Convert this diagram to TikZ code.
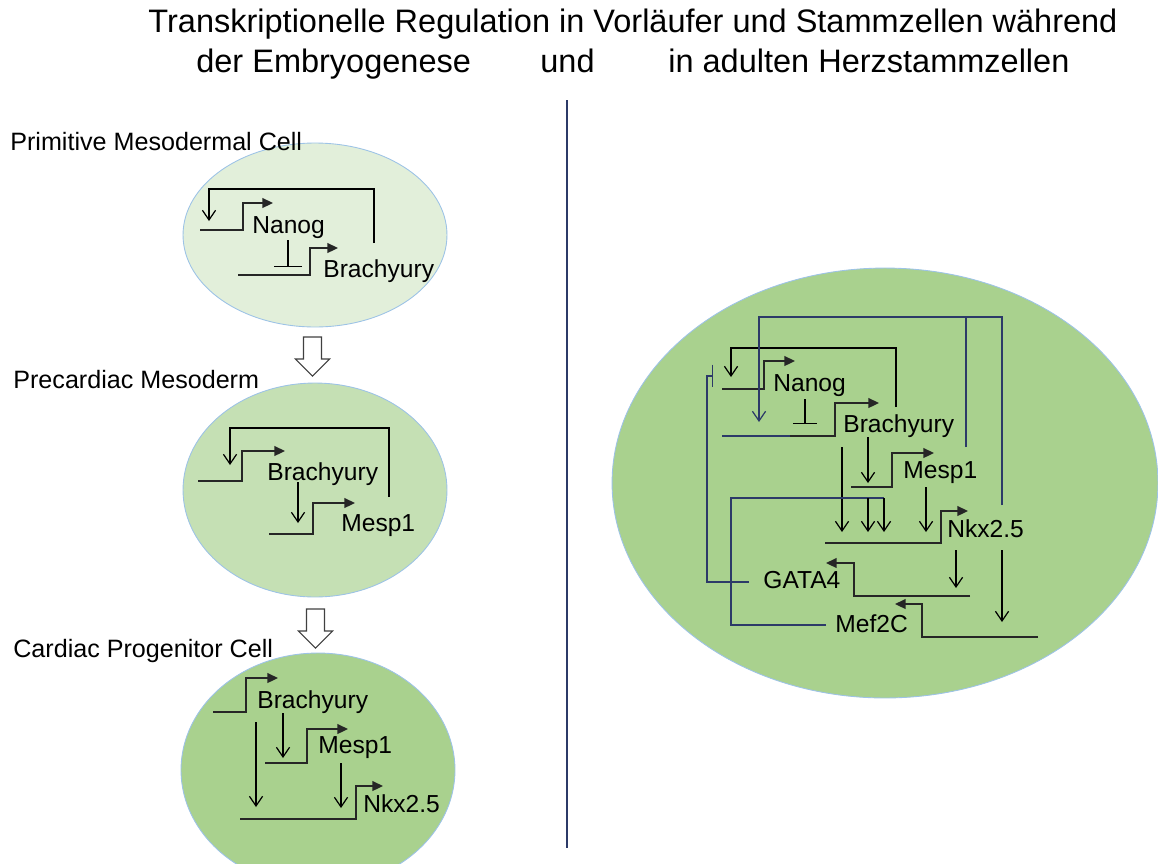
\documentclass[tikz,border=0pt]{standalone}
\usepackage{fontspec}
\setmainfont{Liberation Sans}
\usetikzlibrary{arrows.meta,shapes.geometric}

\definecolor{paleGreen}{RGB}{226,239,218}
\definecolor{midGreen}{RGB}{197,224,180}
\definecolor{deepGreen}{RGB}{169,209,142}
\definecolor{rimBlue}{RGB}{157,195,230}
\definecolor{navyLine}{RGB}{44,58,104}

\tikzset{
  cell/.style={ellipse, draw=rimBlue, line width=0.5pt, inner sep=0pt},
  title/.style={inner sep=0pt, font=\fontsize{18.5}{22}\selectfont},
  stage/.style={anchor=base west, inner sep=0pt, font=\fontsize{14.3}{17}\selectfont},
  gene/.style={anchor=base west, inner sep=0pt, font=\fontsize{14}{16}\selectfont},
  prom/.style={line width=1pt, black!85, -{Triangle[length=6pt,width=5.5pt]}},
  act/.style={line width=0.7pt, -{Straight Barb[length=5.5pt,width=7.5pt]}},
  inh/.style={line width=0.7pt, -{Bar[width=14pt]}},
  link/.style={line width=0.7pt, draw=navyLine},
  hollow/.style={draw=black!75, line width=0.6pt, fill=white, line join=miter}
}

\begin{document}
\begin{tikzpicture}[x=0.02cm, y=-0.02cm]
\useasboundingbox (0,0) rectangle (1158,863);

% headline
\node[title, anchor=base] (title1) at (633,32) {Transkriptionelle Regulation in Vorläufer und Stammzellen während};
\node[title, anchor=base west] (title2) at (196,72) {der Embryogenese};
\node[title, anchor=base west] (title3) at (540,72) {und};
\node[title, anchor=base west] (title4) at (668,72) {in adulten Herzstammzellen};

\draw[link] (567,100) -- (567,848);

% cells
\node[cell, fill=paleGreen, minimum width=5.28cm, minimum height=3.68cm] (early) at (315,235) {};
\node[cell, fill=midGreen, minimum width=5.28cm, minimum height=4.28cm] (precardiac) at (315,490) {};
\node[cell, fill=deepGreen, minimum width=5.48cm, minimum height=4.68cm] (progenitor) at (318,770) {};
\node[cell, fill=deepGreen, minimum width=10.92cm, minimum height=8.6cm] (adult) at (885,483) {};

\node[stage] (stage1) at (10,150) {Primitive Mesodermal Cell};
\node[stage] (stage2) at (13,388) {Precardiac Mesoderm};
\node[stage] (stage3) at (13,657) {Cardiac Progenitor Cell};

\coordinate (step1) at (312.5,337);
\coordinate (step2) at (315.5,609);
\draw[hollow] (step1) -- ++(9,0) -- ++(0,22) -- ++(8,0) -- ++(-17,17) -- ++(-17,-17) -- ++(8,0) -- ++(0,-22) -- cycle;
\draw[hollow] (step2) -- ++(9,0) -- ++(0,22) -- ++(8,0) -- ++(-17,17) -- ++(-17,-17) -- ++(8,0) -- ++(0,-22) -- cycle;

% primitive mesodermal cell
\node[gene] (nanog1) at (252,233) {Nanog};
\node[gene] (brachy1) at (323,277) {Brachyury};
\coordinate (nanog1p) at (200,230);
\coordinate (nanog1t) at (273,203);
\coordinate (brachy1p) at (238,275);
\coordinate (brachy1t) at (338,248);
\coordinate (loop1s) at (374,243);
\coordinate (loop1e) at (209,221);
\coordinate (stop1s) at (288,240);
\coordinate (stop1e) at (288,267);
\draw[prom] (nanog1p) -| (243,203) -- (nanog1t);
\draw[prom] (brachy1p) -| (310,248) -- (brachy1t);
\draw[act] (loop1s) -- (374,189) -- (209,189) -- (loop1e);
\draw[inh, -{Bar[width=16pt]}] (stop1s) -- (stop1e);

% precardiac mesoderm
\node[gene] (brachy2) at (267,480) {Brachyury};
\node[gene] (mesp2) at (341,531) {Mesp1};
\coordinate (brachy2p) at (198,481);
\coordinate (brachy2t) at (285,451);
\coordinate (mesp2p) at (269,534);
\coordinate (mesp2t) at (355,503);
\coordinate (loop2s) at (389,497);
\coordinate (loop2e) at (230,465);
\coordinate (go2s) at (298,482);
\coordinate (go2e) at (298,523);
\draw[prom] (brachy2p) -| (242,451) -- (brachy2t);
\draw[prom] (mesp2p) -| (313,503) -- (mesp2t);
\draw[act] (loop2s) -- (389,428) -- (230,428) -- (loop2e);
\draw[act] (go2s) -- (go2e);

% cardiac progenitor cell
\node[gene] (brachy3) at (257,708) {Brachyury};
\node[gene] (mesp3) at (318,753) {Mesp1};
\node[gene] (nkx3) at (363,812) {Nkx2.5};
\coordinate (brachy3p) at (213,712);
\coordinate (brachy3t) at (278,678);
\coordinate (mesp3p) at (265,763);
\coordinate (mesp3t) at (348,729);
\coordinate (nkx3p) at (240,819);
\coordinate (nkx3t) at (383,786);
\draw[prom] (brachy3p) -| (246,678) -- (brachy3t);
\draw[prom] (mesp3p) -| (307,729) -- (mesp3t);
\draw[prom] (nkx3p) -| (356,786) -- (nkx3t);
\coordinate (go3a) at (283,713);
\coordinate (go3b) at (256,722);
\coordinate (go3c) at (341,763);
\draw[act] (go3a) -- (283,758);
\draw[act] (go3b) -- (256,807);
\draw[act] (go3c) -- (341,808);

% adult cardiac stem cell
\node[gene] (nanog4) at (773,391) {Nanog};
\node[gene] (brachy4) at (843,432) {Brachyury};
\node[gene] (mesp4) at (903,478) {Mesp1};
\node[gene] (nkx4) at (947,537) {Nkx2.5};
\node[gene] (gata4) at (763,588) {GATA4};
\node[gene] (mef4) at (835,632) {Mef2C};

\coordinate (nanog4p) at (722,389);
\coordinate (nanog4t) at (795,361);
\coordinate (brachy4p) at (790,436);
\coordinate (brachy4t) at (879,403);
\coordinate (mesp4p) at (851,487);
\coordinate (mesp4t) at (934,453);
\coordinate (nkx4p) at (825,543);
\coordinate (nkx4t) at (968,511);
\coordinate (gata4p) at (970,596);
\coordinate (gata4t) at (826,563);
\coordinate (mef4p) at (1038,637);
\coordinate (mef4t) at (895,604);
\draw[link] (722,436) -- (brachy4p);
\draw[prom] (nanog4p) -| (764,361) -- (nanog4t);
\draw[prom] (brachy4p) -| (835,403) -- (brachy4t);
\draw[prom] (mesp4p) -| (892,453) -- (mesp4t);
\draw[prom] (nkx4p) -| (941,511) -- (nkx4t);
\draw[prom] (gata4p) -| (854,563) -- (gata4t);
\draw[prom] (mef4p) -| (922,604) -- (mef4t);

\coordinate (loop4s) at (896,407);
\coordinate (loop4e) at (731,377);
\draw[act] (loop4s) -- (896,348) -- (731,348) -- (loop4e);
\draw[inh, -{Bar[width=13.5pt]}] (805,399) coordinate (stop4s) -- (805,424) coordinate (stop4e);

\coordinate (b2m) at (868,437);
\coordinate (b2n) at (842,447);
\coordinate (m2n) at (926,487);
\coordinate (n2g) at (956,550);
\coordinate (n2m) at (1002,550);
\draw[act] (b2m) -- (868,483);
\draw[act] (b2n) -- (842,532);
\draw[act] (m2n) -- (926,532);
\draw[act] (n2g) -- (956,588);
\draw[act] (n2m) -- (1002,622);

% feedback from the late genes
\coordinate (mespUp) at (966,447);
\coordinate (nkxUp) at (1002,505);
\coordinate (backTip) at (759,422);
\draw[link] (mespUp) -- (966,317);
\draw[link, act, draw=navyLine] (nkxUp) -- (1002,317) -- (759,317) -- (backTip);

\coordinate (gataOut) at (749,582);
\coordinate (nanogStop) at (713,376);
\draw[link, -{Bar[width=13pt]}] (gataOut) -- (707,582) -- (707,376) -- (nanogStop);

\coordinate (mefOut) at (826,625);
\draw[link] (mefOut) -- (731,625) -- (731,498) -- (884,498);
\draw[act] (884,498) -- (884,532);
\draw[act] (868,498) -- (868,532);
\end{tikzpicture}
\end{document}
